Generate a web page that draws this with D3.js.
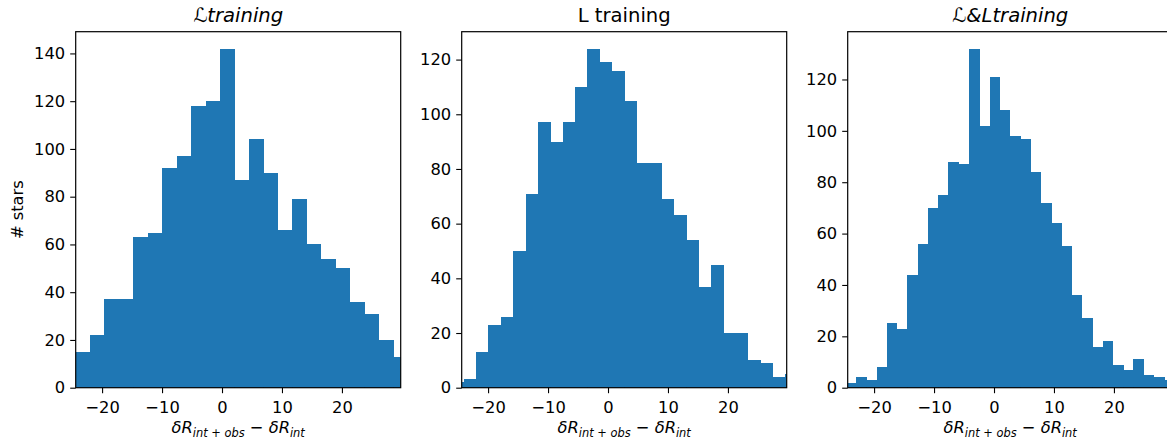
<!DOCTYPE html>
<html>
<head>
<meta charset="utf-8">
<script src="https://cdn.jsdelivr.net/npm/d3@7"></script>
<style>
  html, body { margin: 0; padding: 0; background: #fff; }
  svg { display: block; font-family: "DejaVu Sans", sans-serif; }
</style>
</head>
<body>
<svg id="chart" width="1167" height="445"></svg>
<script>
// Histogram counts per bin for each training scheme
const countsCal = [15, 22, 37, 37, 63, 65, 92, 97, 118, 120, 142, 87, 104, 90, 66, 79, 60, 54, 50, 36, 31, 20, 13];
const countsL   = [2, 3, 13, 23, 26, 50, 71, 97, 90, 97, 110, 124, 119, 116, 105, 82, 82, 69, 63, 54, 37, 45, 20, 20, 10, 9, 4, 5];
const countsBoth = [2, 4, 3, 8, 25, 23, 44, 56, 70, 75, 88, 87, 132, 102, 121, 108, 98, 97, 84, 72, 64, 55, 36, 27, 16, 18, 9, 7, 11, 5, 4, 3];

// Equal-width bins: first edge and bin width for each histogram
const binStart = [-24.42, -26.13, -24.73];
const binWidth = [2.409, 2.062, 1.714];

// Shared x range and tick values
const xRange = [-24.4, 29.8];
const xTicks = [-20, -10, 0, 10, 20];
const yTicksCal = [0, 20, 40, 60, 80, 100, 120, 140];
const yTicksL = [0, 20, 40, 60, 80, 100, 120];
const yTicksBoth = [0, 20, 40, 60, 80, 100, 120];

const panels = [
  { counts: countsCal,  start: binStart[0], width: binWidth[0], yTicks: yTicksCal,  title: "cal" },
  { counts: countsL,    start: binStart[1], width: binWidth[1], yTicks: yTicksL,    title: "plain" },
  { counts: countsBoth, start: binStart[2], width: binWidth[2], yTicks: yTicksBoth, title: "both" }
];

const svg = d3.select("#chart");
const axLeft = [75.7, 461.7, 847.7];
const axTop = 31.7, axW = 325, axH = 356;
const barColor = "#1f77b4";
const tickFont = 16.3;

panels.forEach((p, i) => {
  const g = svg.append("g").attr("transform", `translate(${axLeft[i]},${axTop})`);
  const x = d3.scaleLinear().domain(xRange).range([0, axW]);
  const ymax = d3.max(p.counts) * 1.05;
  const y = d3.scaleLinear().domain([0, ymax]).range([axH, 0]);

  const clipId = "clip" + i;
  g.append("clipPath").attr("id", clipId)
    .append("rect").attr("x", 0).attr("y", 0).attr("width", axW).attr("height", axH);

  const bins = p.counts.map((c, k) => ({
    x0: p.start + k * p.width,
    x1: p.start + (k + 1) * p.width,
    n: c
  }));

  g.append("g").attr("clip-path", `url(#${clipId})`)
    .selectAll("rect").data(bins).join("rect")
    .attr("x", d => x(d.x0))
    .attr("width", d => x(d.x1) - x(d.x0) + 0.3)
    .attr("y", d => y(d.n))
    .attr("height", d => y(0) - y(d.n))
    .attr("fill", barColor)
    .attr("shape-rendering", "crispEdges");

  // axes
  const xAxis = d3.axisBottom(x).tickValues(xTicks).tickSize(5.5).tickPadding(5)
    .tickFormat(d => d < 0 ? "\u2212" + Math.abs(d) : String(d));
  const gx = g.append("g").attr("transform", `translate(0,${axH})`).call(xAxis);
  const yAxis = d3.axisLeft(y).tickValues(p.yTicks).tickSize(5.5).tickPadding(5);
  const gy = g.append("g").call(yAxis);
  [gx, gy].forEach(a => {
    a.select(".domain").remove();
    a.selectAll(".tick line").attr("stroke", "#000").attr("stroke-width", 1.1);
    a.selectAll(".tick text").attr("font-size", tickFont).attr("fill", "#000")
      .attr("font-family", "DejaVu Sans");
  });
  gx.selectAll(".tick text").attr("dy", "0.9em");

  // frame
  g.append("rect").attr("x", 0).attr("y", 0).attr("width", axW).attr("height", axH)
    .attr("fill", "none").attr("stroke", "#000").attr("stroke-width", 1.2);

  // title
  const t = g.append("text").attr("x", axW / 2).attr("y", -10)
    .attr("text-anchor", "middle").attr("font-size", 19.6).attr("fill", "#000");
  if (p.title === "cal") {
    t.attr("font-style", "italic").text("\u2112training");
  } else if (p.title === "plain") {
    t.text("L training");
  } else {
    t.attr("font-style", "italic").text("\u2112&Ltraining");
  }

  // x label
  const xl = g.append("text").attr("x", axW / 2).attr("y", axH + 45.5)
    .attr("text-anchor", "middle").attr("font-size", 16.3).attr("fill", "#000");
  xl.append("tspan").attr("font-style", "italic").text("\u03b4R");
  xl.append("tspan").attr("font-style", "italic").attr("font-size", 11.4).attr("dy", 3.5).text("int");
  xl.append("tspan").attr("font-size", 11.4).text(" + ");
  xl.append("tspan").attr("font-style", "italic").attr("font-size", 11.4).text("obs");
  xl.append("tspan").attr("dy", -3.5).text(" \u2212 ");
  xl.append("tspan").attr("font-style", "italic").text("\u03b4R");
  xl.append("tspan").attr("font-style", "italic").attr("font-size", 11.4).attr("dy", 3.5).text("int");

  if (i === 0) {
    g.append("text")
      .attr("transform", `translate(${-52.5},${axH / 2}) rotate(-90)`)
      .attr("text-anchor", "middle").attr("font-size", 16.3).attr("fill", "#000")
      .text("# stars");
  }
});
</script>
</body>
</html>
